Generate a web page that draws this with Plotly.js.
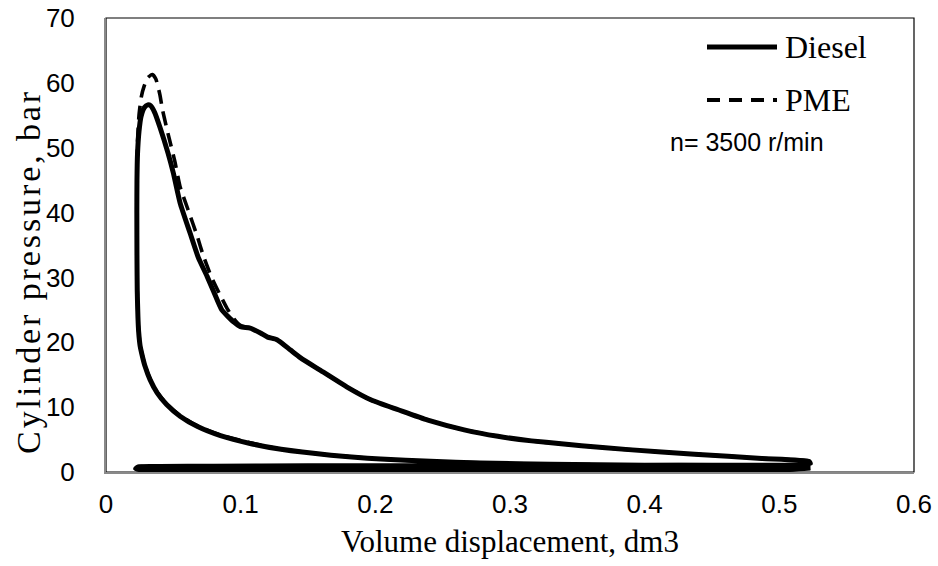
<!DOCTYPE html>
<html>
<head>
<meta charset="utf-8">
<script src="https://cdn.plot.ly/plotly-3.0.1.min.js"></script>
<style>
html,body{margin:0;padding:0;background:#fff;}
#chart{width:938px;height:566px;}
#chart .annotation[data-index="3"] text{letter-spacing:2.9px;}
</style>
</head>
<body>
<div id="chart"></div>
<script>
// Diesel cycle (volume dm3, pressure bar): compression, combustion/expansion, exhaust, intake
const dieselV = [0.523,0.45,0.40,0.33,0.278,0.241,0.204,0.167,0.13,0.107,0.085,0.068,0.055,0.045,0.038,0.0328,0.029,0.0265,0.0253,0.0243,0.0237,0.0232,0.023,0.0229,0.023,0.0234,0.0245,0.026,0.0285,0.031,0.033,0.036,0.040,0.046,0.050,0.055,0.0625,0.0685,0.075,0.080,0.086,0.095,0.0998,0.107,0.115,0.12,0.127,0.137,0.1445,0.159,0.179,0.197,0.217,0.239,0.266,0.291,0.316,0.338,0.353,0.388,0.437,0.487,0.522,0.523,0.45,0.35,0.25,0.15,0.08,0.04,0.024,0.022,0.03,0.10,0.20,0.30,0.40,0.50,0.523];
const dieselP = [0.95,1.0,1.05,1.2,1.4,1.65,2.0,2.6,3.5,4.4,5.6,7.0,8.6,10.4,12.2,14.2,16.3,18.3,19.5,21.5,24,28,33,40,45,49,52.5,54.8,56.2,56.6,56.5,55.5,53.2,49.2,46.1,41.5,36.8,33.1,30.2,27.8,25,23.1,22.4,22.2,21.4,20.8,20.4,18.8,17.6,15.7,13.1,11.1,9.6,8.0,6.5,5.5,4.8,4.35,4.05,3.45,2.75,2.1,1.65,1.3,1.05,1.0,0.95,0.95,0.9,0.85,0.8,0.5,0.25,0.25,0.25,0.25,0.25,0.3,0.6];

// PME cycle
const pmeV = [0.523,0.45,0.40,0.33,0.278,0.241,0.204,0.167,0.13,0.107,0.085,0.068,0.055,0.045,0.038,0.0328,0.029,0.0265,0.0253,0.0243,0.0237,0.0232,0.023,0.0229,0.023,0.0234,0.0245,0.0262,0.0285,0.031,0.0345,0.037,0.040,0.042,0.046,0.051,0.055,0.061,0.068,0.072,0.078,0.084,0.090,0.095,0.0998,0.107,0.115,0.12,0.127,0.137,0.1445,0.159,0.179,0.197,0.217,0.239,0.266,0.291,0.316,0.338,0.353,0.388,0.437,0.487,0.522,0.523,0.45,0.35,0.25,0.15,0.08,0.04,0.024,0.022,0.03,0.10,0.20,0.30,0.40,0.50,0.523];
const pmeP = [0.95,1.0,1.05,1.2,1.4,1.65,2.0,2.6,3.5,4.5,5.7,7.1,8.7,10.5,12.3,14.3,16.4,18.4,19.6,21.6,24,28,33,40,46,51,55,57.8,59.6,60.8,61.3,60.6,58.2,55.8,52.2,48,44,40.4,36.2,33.5,30.2,27.6,25.2,23.6,22.6,22.2,21.4,20.8,20.4,18.8,17.6,15.7,13.1,11.1,9.6,8.0,6.5,5.5,4.8,4.35,4.05,3.45,2.75,2.1,1.65,1.3,1.05,1.0,0.95,0.95,0.9,0.85,0.8,0.5,0.25,0.25,0.25,0.25,0.25,0.3,0.6];

const xTicks = [0,0.1,0.2,0.3,0.4,0.5,0.6];
const yTicks = [0,10,20,30,40,50,60,70];
const seriesNames = ['Diesel','PME'];
const noteText = 'n= 3500 r/min';
const xTitle = 'Volume displacement, dm3';
const yTitle = 'Cylinder pressure, bar';

const traces = [
  {x: dieselV, y: dieselP, name: seriesNames[0], mode: 'lines', line: {color: '#000', width: 5, shape: 'spline', smoothing: 0.5}},
  {x: pmeV, y: pmeP, name: seriesNames[1], mode: 'lines', line: {color: '#000', width: 3.6, dash: '14px,8px', shape: 'spline', smoothing: 0.5}}
];

const serif = 'Liberation Serif, Times New Roman, serif';
const sans = 'Liberation Sans, Arial, sans-serif';

// plot area in pixels: left 106, right 914, top 18, bottom 472
const L = 106, R = 914, T = 18, B = 472;
const px = v => (v - L) / (R - L);
const py = v => (B - v) / (B - T);

const layout = {
  width: 938, height: 566,
  margin: {l: L, r: 938 - R, t: T, b: 566 - B},
  paper_bgcolor: '#fff', plot_bgcolor: '#fff',
  showlegend: false,
  xaxis: {
    range: [0, 0.6], tickvals: xTicks, ticktext: xTicks.map(String),
    showgrid: false, zeroline: false, showline: true, linecolor: '#898989', linewidth: 2,
    ticks: '', tickfont: {family: sans, size: 26, color: '#000'}, ticklabelstandoff: 8,
    title: {text: xTitle, font: {family: serif, size: 31, color: '#000'}, standoff: 12},
    automargin: false
  },
  yaxis: {
    range: [0, 70], tickvals: yTicks, ticktext: yTicks.map(String),
    showgrid: false, zeroline: false, showline: true, linecolor: '#898989', linewidth: 2,
    ticks: '', tickfont: {family: sans, size: 26, color: '#000'}, ticklabelstandoff: 24,
    automargin: false
  },
  shapes: [
    {type: 'rect', xref: 'paper', yref: 'paper', x0: 0, x1: 1, y0: 0, y1: 1, line: {color: '#000', width: 1.2}, layer: 'below'},
    {type: 'line', xref: 'paper', yref: 'paper', x0: px(707), x1: px(777), y0: py(47), y1: py(47), line: {color: '#000', width: 5}},
    {type: 'line', xref: 'paper', yref: 'paper', x0: px(707), x1: px(777), y0: py(100), y1: py(100), line: {color: '#000', width: 4, dash: '13px,9px'}}
  ],
  annotations: [
    {xref: 'paper', yref: 'paper', x: px(783), y: py(47), xanchor: 'left', yanchor: 'middle', text: seriesNames[0], showarrow: false, font: {family: serif, size: 32, color: '#000'}},
    {xref: 'paper', yref: 'paper', x: px(783), y: py(100), xanchor: 'left', yanchor: 'middle', text: seriesNames[1], showarrow: false, font: {family: serif, size: 32, color: '#000'}},
    {xref: 'paper', yref: 'paper', x: px(668), y: py(142), xanchor: 'left', yanchor: 'middle', text: noteText, showarrow: false, font: {family: sans, size: 25, color: '#000'}},
    {xref: 'paper', yref: 'paper', x: px(28), y: py(271), xanchor: 'center', yanchor: 'middle', textangle: -90, text: yTitle, showarrow: false, font: {family: serif, size: 34, color: '#000'}}
  ]
};

Plotly.newPlot('chart', traces, layout, {displayModeBar: false, staticPlot: true});
</script>
</body>
</html>
